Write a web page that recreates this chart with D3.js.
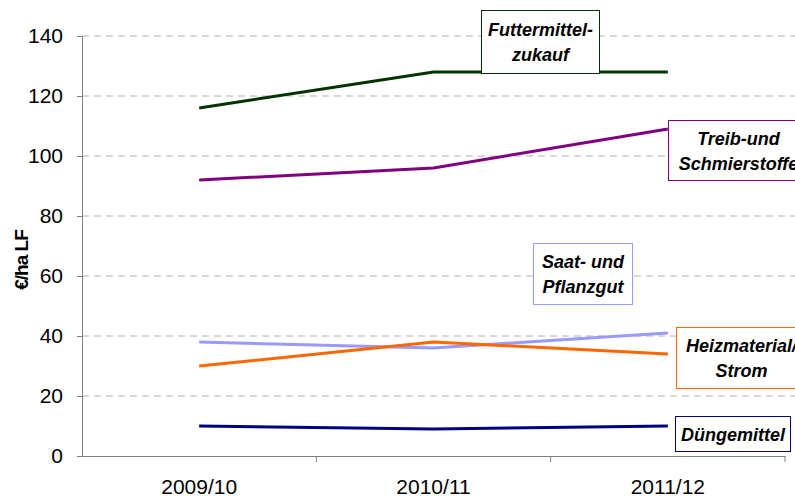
<!DOCTYPE html>
<html>
<head>
<meta charset="utf-8">
<script src="https://cdn.jsdelivr.net/npm/d3@7"></script>
<style>
  body { margin: 0; background: #fff; }
  text { font-family: "Liberation Sans", Arial, sans-serif; }
</style>
</head>
<body>
<div id="chart"></div>
<script>
const WIDTH = 795;
const HEIGHT = 497;
const MARGINS = { left: 82, right: 10, top: 36, bottom: 41 };

// data
const YEARS = ["2009/10", "2010/11", "2011/12"];
const FUTTER = [116, 128, 128];
const TREIB = [92, 96, 109];
const SAAT = [38, 36, 41];
const HEIZ = [30, 38, 34];
const DUENGE = [10, 9, 10];
const Y_TICKS = [0, 20, 40, 60, 80, 100, 120, 140];

const SERIES = [
  { name: ["Futtermittel-", "zukauf"], values: FUTTER, color: "#003300",
    box: { x: 481, y: 10, w: 118, h: 63 } },
  { name: ["Treib-und", "Schmierstoffe"], values: TREIB, color: "#800080",
    box: { x: 668, y: 120, w: 140, h: 60 } },
  { name: ["Saat- und", "Pflanzgut"], values: SAAT, color: "#9999ff",
    box: { x: 533, y: 243, w: 99, h: 61 } },
  { name: ["Heizmaterial/", "Strom"], values: HEIZ, color: "#ff6600",
    box: { x: 676, y: 327, w: 130, h: 61 } },
  { name: ["Düngemittel"], values: DUENGE, color: "#000080",
    box: { x: 675, y: 416, w: 115, h: 35 } }
];

const svg = d3.select("#chart")
  .append("svg")
  .attr("width", WIDTH)
  .attr("height", HEIGHT);

const X_END = 785;
const Y_BOTTOM = 456;

const x = d3.scaleBand()
  .domain(YEARS)
  .range([MARGINS.left, X_END]);

const y = d3.scaleLinear()
  .domain([0, 140])
  .range([Y_BOTTOM, MARGINS.top]);

// gridlines
svg.append("g")
  .selectAll("line")
  .data(Y_TICKS.filter(d => d > 0))
  .enter()
  .append("line")
  .attr("x1", MARGINS.left)
  .attr("x2", WIDTH)
  .attr("y1", d => y(d))
  .attr("y2", d => y(d))
  .attr("stroke", "#b0b0b0")
  .attr("stroke-dasharray", "7,5");

// y axis
const yAxis = svg.append("g")
  .attr("transform", "translate(" + MARGINS.left + ",0)")
  .call(d3.axisLeft(y).tickValues(Y_TICKS).tickSize(5).tickPadding(14));
yAxis.select(".domain").attr("stroke", "#808080");
yAxis.selectAll(".tick line").attr("stroke", "#808080");
yAxis.selectAll("text")
  .attr("font-size", "21px")
  .attr("fill", "#000")
  .attr("font-family", "Liberation Sans, Arial, sans-serif");

// x axis
const xAxis = svg.append("g")
  .attr("transform", "translate(0," + Y_BOTTOM + ")")
  .call(d3.axisBottom(x).tickSize(0).tickPadding(23));
xAxis.select(".domain").attr("stroke", "#808080");
xAxis.selectAll("text")
  .attr("font-size", "21px")
  .attr("fill", "#000")
  .attr("font-family", "Liberation Sans, Arial, sans-serif");

// category separators on x axis
svg.append("g")
  .selectAll("line")
  .data(YEARS.slice(1).map(d => x(d)).concat([X_END]))
  .enter()
  .append("line")
  .attr("x1", d => d)
  .attr("x2", d => d)
  .attr("y1", Y_BOTTOM)
  .attr("y2", Y_BOTTOM + 6)
  .attr("stroke", "#808080");

// y axis title
svg.append("text")
  .attr("transform", "translate(28,260) rotate(-90)")
  .attr("text-anchor", "middle")
  .attr("font-size", "19px")
  .attr("font-weight", "bold")
  .attr("letter-spacing", "-1px")
  .text("€/ha LF");

// lines
const line = d3.line()
  .x((d, i) => x(YEARS[i]) + x.bandwidth() / 2)
  .y(d => y(d));

SERIES.forEach(s => {
  svg.append("path")
    .datum(s.values)
    .attr("d", line)
    .attr("fill", "none")
    .attr("stroke", s.color)
    .attr("stroke-width", 3);
});

// label boxes
SERIES.forEach(s => {
  const g = svg.append("g");
  g.append("rect")
    .attr("x", s.box.x + 0.5)
    .attr("y", s.box.y + 0.5)
    .attr("width", s.box.w)
    .attr("height", s.box.h)
    .attr("fill", "#fff")
    .attr("stroke", s.color)
    .attr("stroke-width", 1);
  const n = s.name.length;
  s.name.forEach((t, i) => {
    g.append("text")
      .attr("x", s.box.x + s.box.w / 2 + 0.5)
      .attr("y", s.box.y + s.box.h / 2 + (i - (n - 1) / 2) * 25 + 7)
      .attr("text-anchor", "middle")
      .attr("font-size", "18px")
      .attr("font-weight", "bold")
      .attr("font-style", "italic")
      .text(t);
  });
});
</script>
</body>
</html>
